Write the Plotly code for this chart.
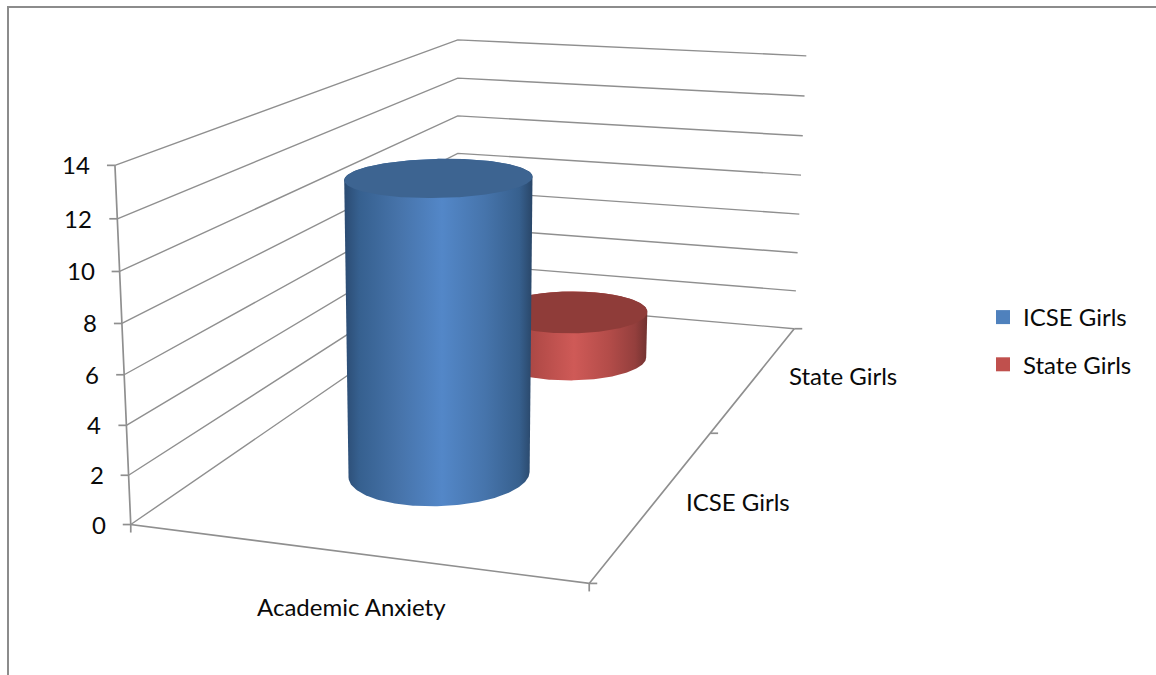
import numpy as np
import plotly.graph_objects as go

# Chart data
categories = ["Academic Anxiety"]
series_names = ["ICSE Girls", "State Girls"]
icse_values = [12.35]
state_values = [2.3]
value_ticks = [0, 2, 4, 6, 8, 10, 12, 14]

# Cylinder styling
body_scales = {
    "ICSE Girls": [[0, "#2b4b72"], [0.08, "#36608f"], [0.3, "#4774ab"], [0.52, "#5387c8"],
                   [0.75, "#4674ab"], [0.93, "#37608e"], [1, "#294668"]],
    "State Girls": [[0, "#7a3533"], [0.08, "#93403e"], [0.3, "#b54c49"], [0.52, "#cf5a57"],
                    [0.75, "#b34c49"], [0.92, "#943f3d"], [1, "#723230"]],
}
cap_colors = {"ICSE Girls": "#3d6491", "State Girls": "#8f3c39"}
legend_colors = {"ICSE Girls": "#4f81bd", "State Girls": "#c0504d"}
GRID = "#8f8f8f"
FONT = "Lato"
FONT_SIZE = 24

# 3D box -> page pixels. World axes: category (0-1), series depth (0-2), value (0-14).
anchors_world = [(0, 0, 0), (0, 0, 14), (1, 0, 0), (1, 2, 0), (1, 2, 14), (0, 2, 0), (0, 2, 14)]
anchors_page = [(130, 522), (115, 166.5), (590, 585), (794, 327), (806, 56.5), (458, 302), (458, 38.5)]


def fit_camera(world, page):
    rows, rhs = [], []
    for (a, b, c), (u, v) in zip(world, page):
        rows.append([a, b, c, 1, 0, 0, 0, 0, -u * a, -u * b, -u * c])
        rows.append([0, 0, 0, 0, a, b, c, 1, -v * a, -v * b, -v * c])
        rhs += [u, v]
    sol = np.linalg.lstsq(np.array(rows, float), np.array(rhs, float), rcond=None)[0]
    return np.append(sol, 1.0).reshape(3, 4)


CAM = fit_camera(anchors_world, anchors_page)


def project(x, d, z):
    h = CAM @ np.vstack([x, d, z, np.ones_like(x)])
    return h[0] / h[2], h[1] / h[2]


def p1(x, d, z):
    u, v = project(np.array([x], float), np.array([d], float), np.array([z], float))
    return float(u[0]), float(v[0])


def hull(points):
    pts = sorted(set(points))
    def half(seq):
        out = []
        for p in seq:
            while len(out) > 1 and (out[-1][0] - out[-2][0]) * (p[1] - out[-2][1]) - (out[-1][1] - out[-2][1]) * (p[0] - out[-2][0]) <= 0:
                out.pop()
            out.append(p)
        return out[:-1]
    return half(pts) + half(pts[::-1])


def add_path(fig, segments, width=1.4):
    xs, ys = [], []
    for seg in segments:
        for p in seg:
            xs.append(p[0])
            ys.append(p[1])
        xs.append(None)
        ys.append(None)
    fig.add_trace(go.Scatter(x=xs, y=ys, mode="lines", line=dict(color=GRID, width=width),
                             showlegend=False, hoverinfo="skip"))


def add_cylinder(fig, name, centre_x, centre_d, value, rx=0.2, rd=0.22):
    t = np.linspace(0, 2 * np.pi, 241)
    cx = centre_x + rx * np.cos(t)
    cd = centre_d + rd * np.sin(t)
    bx, by = project(cx, cd, np.zeros_like(t))
    tx, ty = project(cx, cd, np.full_like(t, value))
    outline = hull(list(zip(bx.tolist(), by.tolist())) + list(zip(tx.tolist(), ty.tolist())))
    outline.append(outline[0])
    fig.add_trace(go.Scatter(x=[p[0] for p in outline], y=[p[1] for p in outline], mode="lines",
                             fill="toself", line=dict(width=0),
                             fillgradient=dict(type="horizontal", colorscale=body_scales[name]),
                             name=name, showlegend=False, hoverinfo="skip"))
    fig.add_trace(go.Scatter(x=tx, y=ty, mode="lines", fill="toself", line=dict(width=0),
                             fillcolor=cap_colors[name], name=name, showlegend=False, hoverinfo="skip"))


fig = go.Figure()

# Wall gridlines, axis edges and tick marks
grid = [[p1(0, 0, z), p1(0, 2, z), p1(1, 2, z)] for z in value_ticks]
add_path(fig, grid, 1.4)
edges = [[p1(0, 0, 14), p1(0, 0, 0), p1(1, 0, 0), p1(1, 2, 0)]]
for z in value_ticks:
    u, v = p1(0, 0, z)
    edges.append([(u - 8, v), (u, v)])
for x in (0, 1):
    u, v = p1(x, 0, 0)
    edges.append([(u, v), (u, v + 8)])
for d in (0, 1, 2):
    u, v = p1(1, d, 0)
    edges.append([(u, v), (u + 8, v)])
add_path(fig, edges, 1.7)

# Farther series first so the nearer cylinder covers it
add_cylinder(fig, "State Girls", 0.494, 1.52, state_values[0])
add_cylinder(fig, "ICSE Girls", 0.495, 0.52, icse_values[0])

# Legend entries
for i, name in enumerate(series_names):
    fig.add_trace(go.Scatter(x=[None], y=[None], mode="markers", name=name, legendgroup=name,
                             marker=dict(symbol="square", size=14, color=legend_colors[name])))

# Value-axis and category labels
notes = []
for z in value_ticks:
    u, v = p1(0, 0, z)
    notes.append(dict(x=u - 23, y=v - 0.5, text=str(z), xanchor="right", yanchor="middle", showarrow=False))
notes.append(dict(x=351, y=606, text=categories[0], xanchor="center", yanchor="middle", showarrow=False))
notes.append(dict(x=738, y=501, text=series_names[0], xanchor="center", yanchor="middle", showarrow=False))
notes.append(dict(x=843, y=375, text=series_names[1], xanchor="center", yanchor="middle", showarrow=False))

fig.update_layout(
    width=1156, height=675, margin=dict(l=0, r=0, t=0, b=0),
    paper_bgcolor="white", plot_bgcolor="white",
    font=dict(family=FONT, size=FONT_SIZE, color="#0a0a0a"),
    xaxis=dict(range=[0, 1156], visible=False, fixedrange=True),
    yaxis=dict(range=[675, 0], visible=False, fixedrange=True),
    annotations=notes,
    legend=dict(x=983 / 1156, y=1 - 295 / 675, xanchor="left", yanchor="top",
                tracegroupgap=13, bgcolor="rgba(0,0,0,0)", font=dict(size=FONT_SIZE)),
    shapes=[dict(type="path", path="M 8 675 L 8 7 L 1156 7", line=dict(color="#8c8c8c", width=2))],
)

fig.write_html("out.html")
